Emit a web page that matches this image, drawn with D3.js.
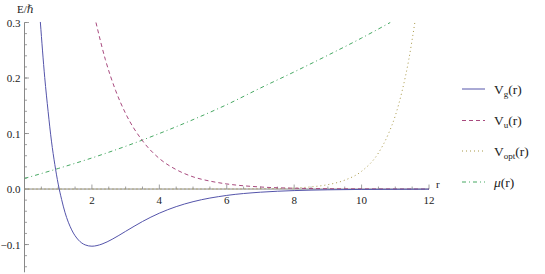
<!DOCTYPE html>
<html lang="en">
<head>
    <meta charset="UTF-8">
    <title>Potentials</title>
    <script src="https://d3js.org/d3.v7.min.js"></script>
    <style>
        body { margin: 0; padding: 0; background: white; }
        svg { display: block; font-family: "Liberation Serif", "DejaVu Serif", serif; }
        .tick-label { font-size: 11px; fill: #222; }
    </style>
</head>
<body>
    <svg id="chart" width="545" height="274"></svg>

    <script>
        // values
        let vgData = [
            [0.47, 0.301], [0.6, 0.201], [0.7, 0.140], [0.8, 0.0863], [0.9, 0.044],
            [1.0, 0.0089], [1.1, -0.0186], [1.2, -0.0418], [1.4, -0.0736], [1.6, -0.0918],
            [1.8, -0.1006], [2.0, -0.103], [2.3, -0.0991], [2.6, -0.0905], [3.0, -0.0762],
            [3.5, -0.0585], [4.0, -0.0435], [4.5, -0.0317], [5.0, -0.0228], [6.0, -0.0115],
            [7.0, -0.0057], [8.0, -0.0028], [9.0, -0.0014], [10.0, -0.0007], [12.0, -0.0002]
        ];
        let vuData = [
            [2.12, 0.300], [2.4, 0.233], [2.7, 0.178], [3.0, 0.136], [3.5, 0.087],
            [4.0, 0.055], [4.5, 0.035], [5.0, 0.022], [5.5, 0.0143], [6.0, 0.0092],
            [7.0, 0.0037], [8.0, 0.0015], [9.0, 0.0006], [10.0, 0.0003], [12.0, 0.0]
        ];
        let voptData = [
            [0, 0.0], [6.0, 0.0001], [7.0, 0.0005], [8.0, 0.0019], [8.5, 0.0039],
            [9.0, 0.0079], [9.5, 0.016], [10.0, 0.032], [10.5, 0.065], [10.8, 0.1],
            [11.0, 0.132], [11.2, 0.176], [11.4, 0.233], [11.58, 0.300]
        ];
        let muData = [
            [0, 0.019], [1, 0.037], [2, 0.056], [3, 0.077], [4, 0.100], [5, 0.125],
            [6, 0.152], [7, 0.182], [8, 0.211], [9, 0.241], [10, 0.272], [10.85, 0.300]
        ];
        let xTickValues = [2, 4, 6, 8, 10, 12];
        let yTickValues = [-0.1, 0.0, 0.1, 0.2, 0.3];
        let yTickLabels = ["\u22120.1", "0.0", "0.1", "0.2", "0.3"];

        let series = [
            { name: "V", sub: "g", data: vgData, color: "#5454aa", dash: null },
            { name: "V", sub: "u", data: vuData, color: "#a84a7e", dash: "4,3" },
            { name: "V", sub: "opt", data: voptData, color: "#a89847", dash: "1,3" },
            { name: "\u03bc", sub: null, data: muData, color: "#47a863", dash: "4,3,1,3" }
        ];

        let svg = d3.select("#chart");
        let x = d3.scaleLinear().domain([0, 12]).range([24.5, 429]);
        let y = d3.scaleLinear().domain([-0.15, 0.3]).range([272.3, 22.5]);

        svg.append("clipPath").attr("id", "plot-clip")
            .append("rect")
            .attr("x", x(0)).attr("y", y(0.3) - 1)
            .attr("width", x(12) - x(0) + 1).attr("height", y(-0.15) - y(0.3) + 2);

        // axes
        let axisColor = "#888";
        let g = svg.append("g");

        g.append("line")
            .attr("x1", x(0)).attr("x2", x(12))
            .attr("y1", y(0)).attr("y2", y(0))
            .attr("stroke", axisColor).attr("stroke-width", 1);
        g.append("line")
            .attr("x1", x(0)).attr("x2", x(0))
            .attr("y1", y(-0.15)).attr("y2", y(0.3))
            .attr("stroke", axisColor).attr("stroke-width", 1);

        d3.range(1, 25).forEach(i => {
            let v = i * 0.5;
            let major = i % 4 === 0;
            g.append("line")
                .attr("x1", x(v)).attr("x2", x(v))
                .attr("y1", y(0)).attr("y2", y(0) - (major ? 4.5 : 2.5))
                .attr("stroke", axisColor).attr("stroke-width", 0.8);
        });
        d3.range(-7, 16).forEach(i => {
            let v = i * 0.02;
            if (i === 0) return;
            g.append("line")
                .attr("x1", x(0)).attr("x2", x(0) + 2.5)
                .attr("y1", y(v)).attr("y2", y(v))
                .attr("stroke", axisColor).attr("stroke-width", 0.8);
        });
        yTickValues.forEach(v => {
            g.append("line")
                .attr("x1", x(0)).attr("x2", x(0) + 4.5)
                .attr("y1", y(v)).attr("y2", y(v))
                .attr("stroke", axisColor).attr("stroke-width", 0.8);
        });

        xTickValues.forEach(v => {
            g.append("text")
                .attr("class", "tick-label")
                .attr("x", x(v)).attr("y", y(0) + 14.5)
                .attr("text-anchor", "middle")
                .text(v);
        });
        yTickValues.forEach((v, i) => {
            g.append("text")
                .attr("class", "tick-label")
                .attr("x", x(0) - 4).attr("y", y(v) + 4)
                .attr("text-anchor", "end")
                .text(yTickLabels[i]);
        });

        let yLabel = g.append("text")
            .attr("class", "tick-label")
            .attr("x", 17).attr("y", 13)
            .attr("font-size", "10.5px")
            .text("E/");
        yLabel.append("tspan").attr("font-style", "italic").text("\u210f");

        g.append("text")
            .attr("class", "tick-label")
            .attr("x", 436).attr("y", 188)
            .text("r");

        // curves
        let line = d3.line()
            .x(d => x(d[0]))
            .y(d => y(d[1]))
            .curve(d3.curveMonotoneX);

        let plot = svg.append("g").attr("clip-path", "url(#plot-clip)");
        series.slice().reverse().forEach(s => {
            plot.append("path")
                .datum(s.data)
                .attr("d", line)
                .attr("fill", "none")
                .attr("stroke", s.color)
                .attr("stroke-width", 1)
                .attr("stroke-dasharray", s.dash);
        });

        // legend
        let legendY = [89, 120.5, 151, 182];
        series.forEach((s, i) => {
            let ly = legendY[i];
            svg.append("line")
                .attr("x1", 462).attr("x2", 485)
                .attr("y1", ly).attr("y2", ly)
                .attr("stroke", s.color)
                .attr("stroke-width", 1)
                .attr("stroke-dasharray", s.dash);
            let t = svg.append("text")
                .attr("x", 494).attr("y", ly + 4.5)
                .attr("font-size", "13.5px")
                .attr("fill", "#222");
            if (s.sub) {
                t.append("tspan").text(s.name);
                t.append("tspan").attr("font-size", "9px").attr("dy", 3).text(s.sub);
                t.append("tspan").attr("dy", -3).text("(r)");
            } else {
                t.append("tspan").attr("font-style", "italic").text(s.name);
                t.append("tspan").text("(r)");
            }
        });
    </script>
</body>
</html>
